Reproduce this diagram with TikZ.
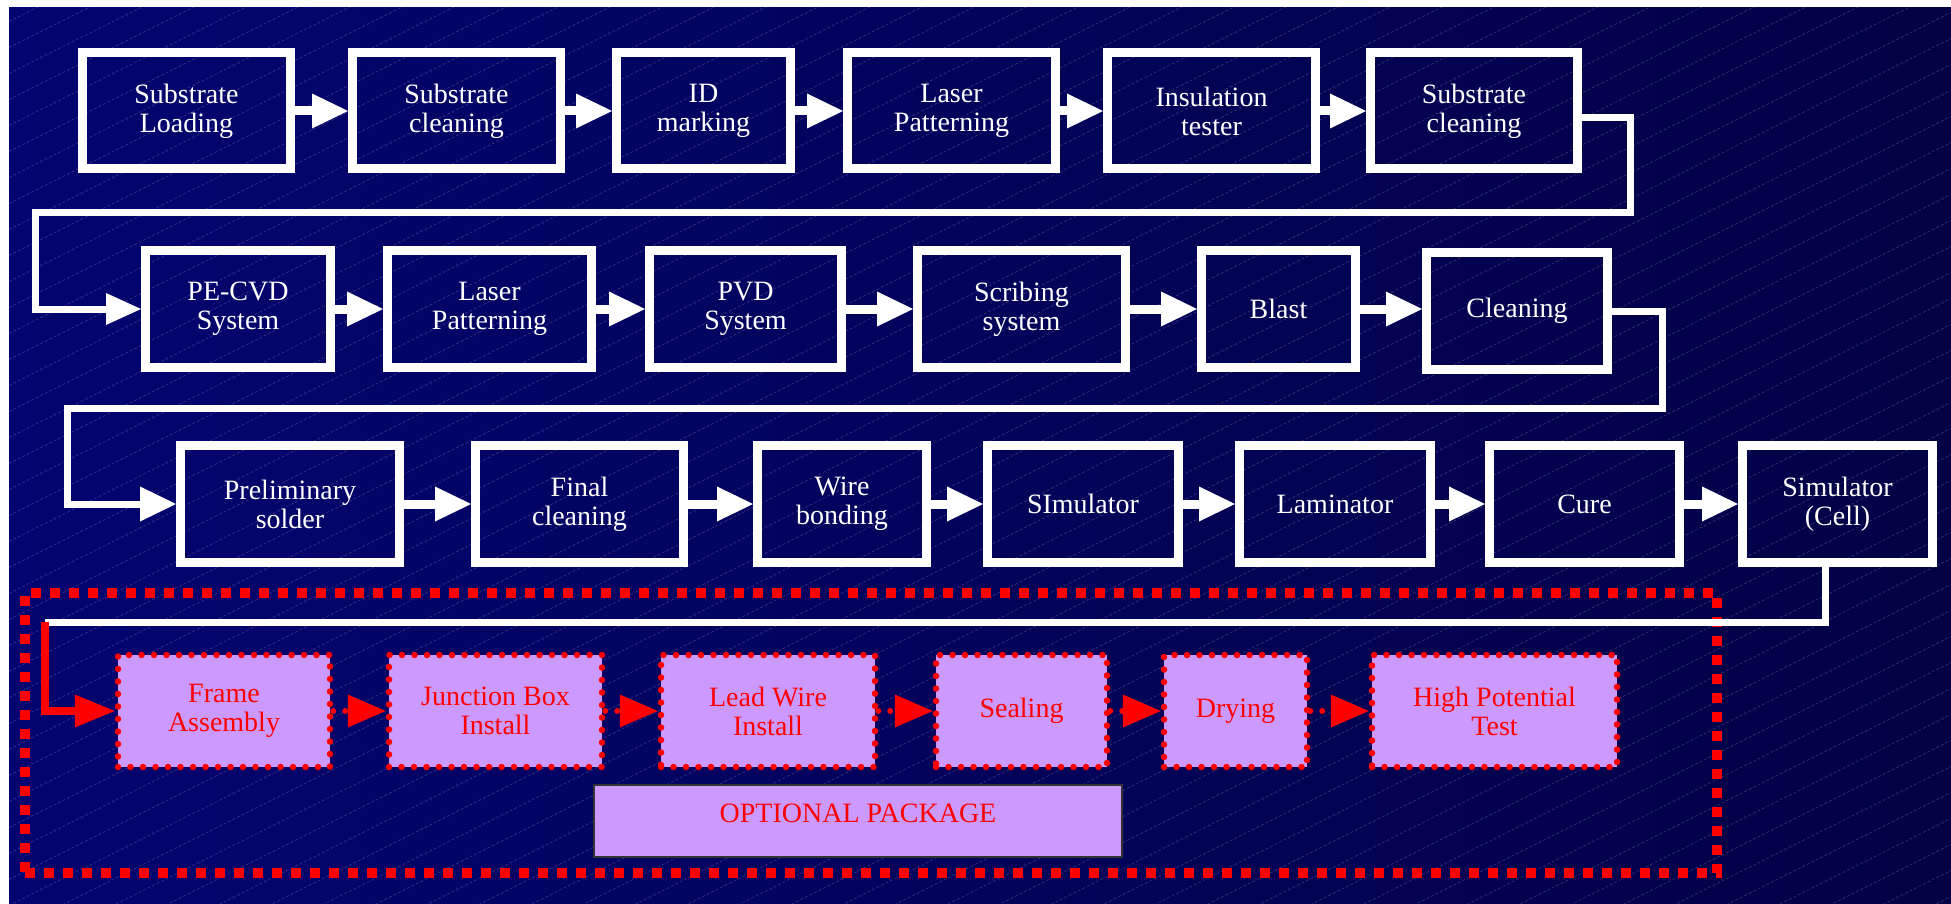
\documentclass[tikz,border=0pt]{standalone}
\usepackage{fontspec}
\setmainfont{Liberation Serif}
\usetikzlibrary{arrows.meta}
\definecolor{navyL}{RGB}{4,4,112}
\definecolor{navyR}{RGB}{2,2,70}
\definecolor{lav}{RGB}{204,153,255}
\begin{document}
\begin{tikzpicture}[x=1pt,y=-1pt,
  boxfont/.style={font=\fontsize{28pt}{29pt}\selectfont},
  wbox/.style={boxfont, draw=white, line width=9pt, text=white, align=center, inner sep=0pt},
  pbox/.style={boxfont, draw=red, fill=lav, line width=6.5pt, line cap=round, dash pattern=on 0pt off 12.5pt, text=red, align=center, inner sep=0pt},
  warrow/.style={draw=white, line width=9pt, -{Triangle[length=36pt,width=35pt,line width=0pt]}},
  wloop/.style={draw=white, line width=7pt},
  rarrow/.style={draw=red, line width=6pt, line cap=round, dash pattern=on 0pt off 12pt, -{Triangle[length=38pt,width=33pt,line width=0pt]}},
  rline/.style={draw=red, line width=8pt, -{Triangle[length=40pt,width=33pt,line width=0pt]}},
  bigframe/.style={draw=red, line width=10pt, dash pattern=on 10pt off 9pt, inner sep=0pt},
  optbox/.style={boxfont, draw=black!80, line width=1.5pt, fill=lav, text=red, inner sep=0pt},
  hatch/.style={draw=white, opacity=0.17, line width=0.8pt, dash pattern=on 3pt off 2pt}]
\useasboundingbox (0,0) rectangle (1951,904);
\fill[white] (0,0) rectangle (1951,904);
\shade[left color=navyL, right color=navyR] (9,8) rectangle (1951,904);
\begin{scope}
  \clip (9,8) rectangle (1951,904);
  \foreach \c in {0,26,...,1900} { \draw[hatch] (0,\c) -- ({2*\c},0); }
\end{scope}

% Row 1
\node[wbox, minimum width=208pt, minimum height=116pt] (B1) at (186.5,111) {Substrate\\Loading};
\node[wbox, minimum width=208pt, minimum height=116pt] (B2) at (456.5,111) {Substrate\\cleaning};
\node[wbox, minimum width=174pt, minimum height=116pt] (B3) at (703.5,111) {ID\\marking};
\node[wbox, minimum width=208pt, minimum height=116pt] (B4) at (951.5,111) {Laser\\Patterning};
\node[wbox, minimum width=208pt, minimum height=116pt] (B5) at (1211.5,111) {Insulation\\tester};
\node[wbox, minimum width=207pt, minimum height=116pt] (B6) at (1474,111) {Substrate\\cleaning};

% Row 2
\node[wbox, minimum width=185pt, minimum height=117pt] (C1) at (238,309) {PE-CVD\\System};
\node[wbox, minimum width=204pt, minimum height=117pt] (C2) at (489.5,309) {Laser\\Patterning};
\node[wbox, minimum width=192pt, minimum height=117pt] (C3) at (745.5,309) {PVD\\System};
\node[wbox, minimum width=208pt, minimum height=117pt] (C4) at (1021.5,309) {Scribing\\system};
\node[wbox, minimum width=154pt, minimum height=117pt] (C5) at (1278.5,309) {Blast};
\node[wbox, minimum width=181pt, minimum height=117pt] (C6) at (1517,311) {Cleaning};

% Row 3
\node[wbox, minimum width=219pt, minimum height=117pt] (D1) at (290,504) {Preliminary\\solder};
\node[wbox, minimum width=208pt, minimum height=117pt] (D2) at (579.5,504) {Final\\cleaning};
\node[wbox, minimum width=169pt, minimum height=117pt] (D3) at (842,504) {Wire\\bonding};
\node[wbox, minimum width=191pt, minimum height=117pt] (D4) at (1083,504) {SImulator};
\node[wbox, minimum width=191pt, minimum height=117pt] (D5) at (1335,504) {Laminator};
\node[wbox, minimum width=190pt, minimum height=117pt] (D6) at (1584.5,504) {Cure};
\node[wbox, minimum width=190pt, minimum height=117pt] (D7) at (1837.5,504) {Simulator\\(Cell)};

% Optional package frame
\node[bigframe, minimum width=1692pt, minimum height=280pt] (frame) at (871,733) {};
\node[optbox, minimum width=528pt, minimum height=72pt] (opt) at (858,821) {\raisebox{8pt}[\height][\depth]{OPTIONAL PACKAGE}};

% Row 4
\node[pbox, minimum width=212pt, minimum height=112pt] (E1) at (224,711) {Frame\\Assembly};
\node[pbox, minimum width=213pt, minimum height=112pt] (E2) at (495.5,711) {Junction Box\\Install};
\node[pbox, minimum width=214pt, minimum height=112pt] (E3) at (768,711) {Lead Wire\\Install};
\node[pbox, minimum width=171pt, minimum height=112pt] (E4) at (1021.5,711) {Sealing};
\node[pbox, minimum width=143pt, minimum height=112pt] (E5) at (1235.5,711) {Drying};
\node[pbox, minimum width=245pt, minimum height=112pt] (E6) at (1494.5,711) {High Potential\\Test};

% Arrows row 1
\draw[warrow] (B1) -- (B2);
\draw[warrow] (B2) -- (B3);
\draw[warrow] (B3) -- (B4);
\draw[warrow] (B4) -- (B5);
\draw[warrow] (B5) -- (B6);
% Arrows row 2
\draw[warrow] (C1) -- (C2);
\draw[warrow] (C2) -- (C3);
\draw[warrow] (C3) -- (C4);
\draw[warrow] (C4) -- (C5);
\draw[warrow] (C5.east) -- (C5.east -| C6.west);
% Arrows row 3
\draw[warrow] (D1) -- (D2);
\draw[warrow] (D2) -- (D3);
\draw[warrow] (D3) -- (D4);
\draw[warrow] (D4) -- (D5);
\draw[warrow] (D5) -- (D6);
\draw[warrow] (D6) -- (D7);
% Arrows row 4
\draw[rarrow] (E1) -- (E2);
\draw[rarrow] (E2) -- (E3);
\draw[rarrow] (E3) -- (E4);
\draw[rarrow] (E4) -- (E5);
\draw[rarrow] (E5) -- (E6);

% Loops
\coordinate (k1) at (1630,213);
\coordinate (k2) at (35,213);
\coordinate (k3) at (1662,408);
\coordinate (k4) at (67,408);
\coordinate (k5) at (45,622);
\draw[wloop, -{Triangle[length=35pt,width=32pt,line width=0pt]}] ([yshift=-7pt]B6.east) -| (k1) -- (k2) |- (C1.west);
\draw[wloop, -{Triangle[length=36pt,width=35pt,line width=0pt]}] (C6.east) -| (k3) -- (k4) |- (D1.west);
\draw[wloop] ([xshift=-12pt]D7.south) |- (k5);
\draw[rline] (k5) |- (E1.west);
\end{tikzpicture}
\end{document}
